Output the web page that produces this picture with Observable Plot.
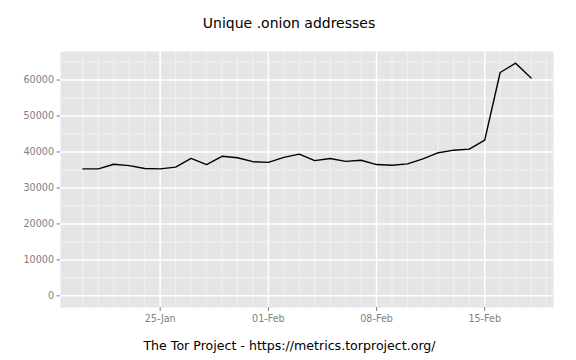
<!DOCTYPE html>
<html>
<head>
<meta charset="utf-8">
<script src="https://cdn.jsdelivr.net/npm/d3@7"></script>
<script src="https://cdn.jsdelivr.net/npm/@observablehq/plot@0.6"></script>
<style>
  body { margin: 0; background: #fff; }
  svg { font-family: "DejaVu Sans", sans-serif; }
</style>
</head>
<body>
<div id="chart"></div>
<script>
const dates = ["2015-01-20","2015-01-21","2015-01-22","2015-01-23","2015-01-24","2015-01-25","2015-01-26","2015-01-27","2015-01-28","2015-01-29","2015-01-30","2015-01-31","2015-02-01","2015-02-02","2015-02-03","2015-02-04","2015-02-05","2015-02-06","2015-02-07","2015-02-08","2015-02-09","2015-02-10","2015-02-11","2015-02-12","2015-02-13","2015-02-14","2015-02-15","2015-02-16","2015-02-17","2015-02-18"];
const onions = [35300,35300,36600,36200,35400,35300,35800,38200,36500,38800,38400,37300,37100,38500,39400,37600,38200,37400,37700,36500,36300,36700,38100,39800,40500,40800,43300,62100,64700,60600];
const xTicks = ["2015-01-25","2015-02-01","2015-02-08","2015-02-15"];
const yTicks = [0,10000,20000,30000,40000,50000,60000];
const yMinor = [5000,15000,25000,35000,45000,55000,65000];
const titleText = "Unique .onion addresses";
const captionText = "The Tor Project - https://metrics.torproject.org/";

const data = dates.map((d, i) => ({date: new Date(d + "T00:00:00Z"), value: onions[i]}));
const xTickDates = xTicks.map(d => new Date(d + "T00:00:00Z"));
const first = data[0].date, last = data[data.length - 1].date;
const span = last - first;
const xDomain = [new Date(+first - 0.05 * span), new Date(+last + 0.05 * span)];
const yMax = d3.max(onions);
const yDomain = [-0.05 * yMax, yMax * 1.05];
const xMinor = d3.utcDay.range(first, d3.utcDay.offset(last, 2)).filter(d => !xTickDates.some(t => +t === +d));

const plot = Plot.plot({
  width: 576,
  height: 360,
  marginLeft: 60,
  marginRight: 23,
  marginTop: 51,
  marginBottom: 53,
  style: {fontFamily: "DejaVu Sans, sans-serif", background: "#fff"},
  x: {type: "utc", domain: xDomain},
  y: {domain: yDomain},
  marks: [
    Plot.frame({fill: "#E5E5E5", stroke: null}),
    Plot.ruleY(yMinor, {stroke: "#F2F2F2", strokeWidth: 0.9}),
    Plot.ruleX(xMinor, {stroke: "#F2F2F2", strokeWidth: 0.9}),
    Plot.ruleY(yTicks, {stroke: "#FFFFFF", strokeWidth: 1.5}),
    Plot.ruleX(xTickDates, {stroke: "#FFFFFF", strokeWidth: 1.5}),
    Plot.line(data, {x: "date", y: "value", stroke: "#000", strokeWidth: 1.4}),
    Plot.axisY({ticks: yTicks, tickSize: 3.5, tickPadding: 3, stroke: "#7F7F7F", fill: "#7F7F7F", fontSize: 9.6, label: null, tickFormat: d => String(d)}),
    Plot.axisX({ticks: xTickDates, tickSize: 4, tickPadding: 4, stroke: "#7F7F7F", fill: "#7F7F7F", fontSize: 9.6, label: null, tickFormat: d3.utcFormat("%d-%b")}),
    Plot.text([titleText], {frameAnchor: "top", dx: -18, dy: -27.5, text: d => d, fontSize: 14, fill: "#000", lineAnchor: "middle"}),
    Plot.text([captionText], {frameAnchor: "bottom", dx: -17.5, dy: 38, text: d => d, fontSize: 12.6, fill: "#000", lineAnchor: "middle"})
  ]
});
document.getElementById("chart").appendChild(plot);
</script>
</body>
</html>
